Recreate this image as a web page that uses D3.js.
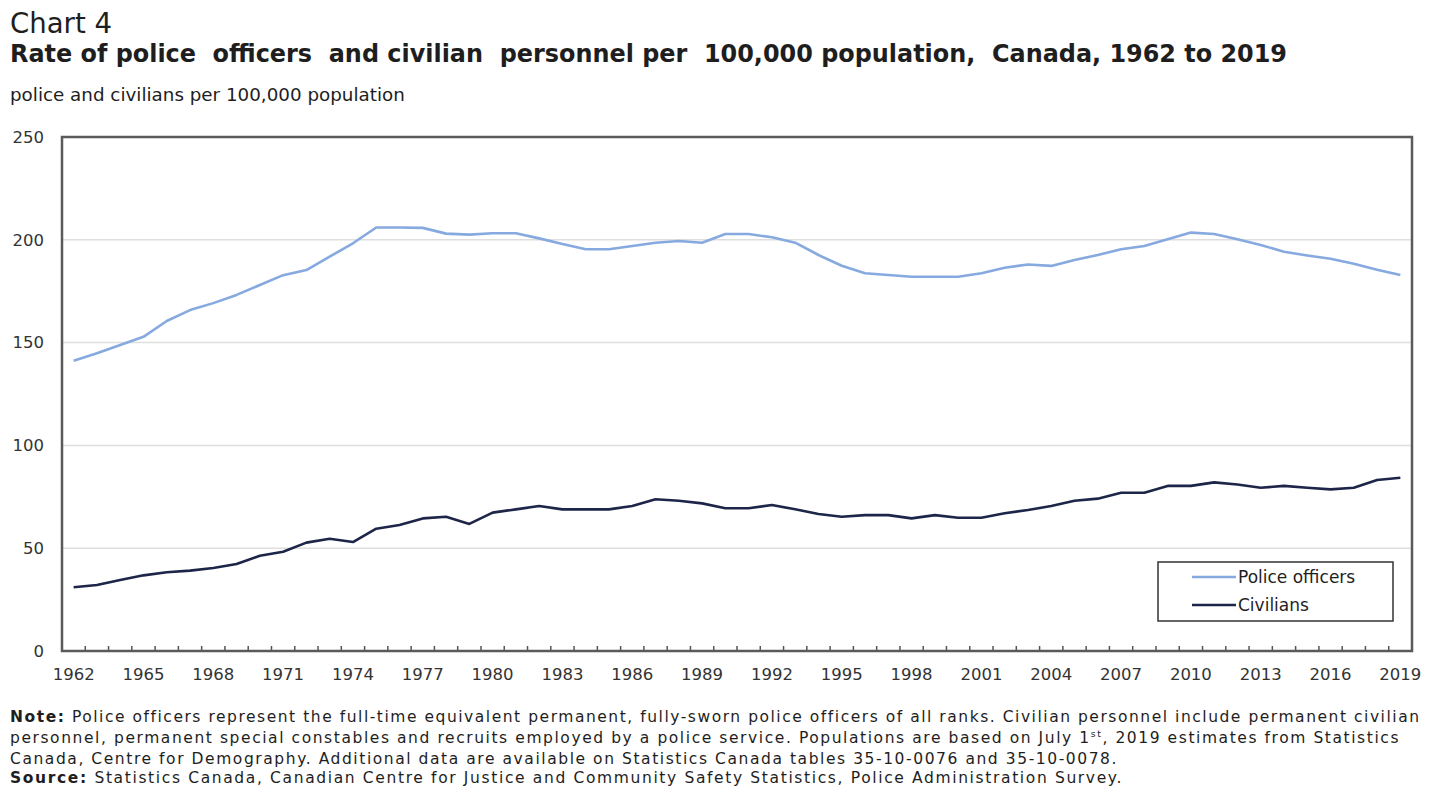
<!DOCTYPE html>
<html>
<head>
<meta charset="utf-8">
<script src="https://cdn.jsdelivr.net/npm/d3@7"></script>
<style>
  html, body { margin: 0; padding: 0; background: #fff; }
  svg { display: block; font-family: "DejaVu Sans", Verdana, sans-serif; }
</style>
</head>
<body>
<svg id="chart" width="1440" height="797"></svg>
<script>
const years = d3.range(1962, 2020);
const policeOfficers = [
  141.2, 144.8, 148.8, 152.8, 160.5, 165.8, 169.2, 173.2, 178.0, 182.8,
  185.3, 191.8, 198.3, 206.0, 206.0, 205.8, 203.0, 202.5, 203.2, 203.2,
  200.7, 198.0, 195.4, 195.4, 197.0, 198.6, 199.4, 198.6, 202.8, 202.8,
  201.2, 198.6, 192.6, 187.4, 183.7, 182.9, 182.0, 182.0, 182.0, 183.7,
  186.4, 188.0, 187.3, 190.2, 192.6, 195.4, 197.0, 200.3, 203.5, 202.8,
  200.3, 197.5, 194.2, 192.4, 190.8, 188.4, 185.4, 182.9
];
const civilians = [
  31.0, 32.1, 34.5, 36.8, 38.3, 39.1, 40.4, 42.3, 46.3, 48.3,
  52.7, 54.6, 53.0, 59.5, 61.3, 64.5, 65.3, 61.8, 67.3, 68.9,
  70.5, 68.9, 68.9, 68.9, 70.5, 73.8, 73.1, 71.8, 69.4, 69.4,
  71.0, 68.9, 66.6, 65.3, 66.1, 66.1, 64.5, 66.1, 64.8, 64.8,
  67.0, 68.6, 70.5, 73.1, 74.1, 77.0, 77.0, 80.3, 80.3, 82.0,
  81.0, 79.4, 80.3, 79.4, 78.6, 79.4, 83.2, 84.3
];
const yTicks = [0, 50, 100, 150, 200, 250];
const xLabelYears = years.filter(v => (v - 1962) % 3 === 0);
const seriesNames = ["Police officers", "Civilians"];
const seriesColors = ["#86a9df", "#1d2548"];

const chartLabel = "Chart 4";
const title = "Rate of police  officers  and civilian  personnel per  100,000 population,  Canada, 1962 to 2019";
const subtitle = "police and civilians per 100,000 population";

(function () {
const svg = d3.select("#chart");
const textColor = "#1e1e1e";

function fit(sel, target) {
  const w = sel.node().getComputedTextLength();
  const fs = parseFloat(sel.attr("font-size"));
  sel.attr("font-size", (fs * target / w).toFixed(2));
}
function spread(sel, target) {
  const w = sel.node().getComputedTextLength();
  const n = sel.text().length;
  sel.attr("letter-spacing", ((target - w) / n).toFixed(3));
}

// Titles
fit(svg.append("text").attr("x", 10).attr("y", 33).attr("font-size", 22)
  .attr("fill", textColor).text(chartLabel), 102);
fit(svg.append("text").attr("x", 10).attr("y", 62).attr("font-size", 20)
  .attr("font-weight", "bold").attr("fill", textColor)
  .style("white-space", "pre").text(title), 1277);
fit(svg.append("text").attr("x", 10).attr("y", 101).attr("font-size", 14)
  .attr("fill", textColor).text(subtitle), 395);

// Scales
const pLeft = 62, pRight = 1412, pTop = 137, pBottom = 651;
const x = d3.scaleBand().domain(years).range([pLeft, pRight]);
const y = d3.scaleLinear().domain([0, 250]).range([pBottom, pTop]);
const cx = d => x(d) + x.bandwidth() / 2;

// Grid
svg.append("g").selectAll("line").data(yTicks.filter(t => t > 0 && t < 250)).join("line")
  .attr("x1", pLeft).attr("x2", pRight)
  .attr("y1", d => y(d)).attr("y2", d => y(d))
  .attr("stroke", "#dedede").attr("stroke-width", 1.5);

// Y axis labels
const yAxis = d3.axisLeft(y).tickValues(yTicks).tickSize(0).tickPadding(18);
const yg = svg.append("g").attr("transform", `translate(${pLeft},0)`).call(yAxis);
yg.select(".domain").remove();
yg.selectAll("text").attr("font-size", 16.5).attr("fill", "#333")
  .attr("font-family", "DejaVu Sans, sans-serif");

// X axis labels
const xAxis = d3.axisBottom(x).tickValues(xLabelYears).tickSize(0).tickPadding(17);
const xg = svg.append("g").attr("transform", `translate(0,${pBottom})`).call(xAxis);
xg.select(".domain").remove();
xg.selectAll("text").attr("font-size", 16.5).attr("fill", "#333")
  .attr("font-family", "DejaVu Sans, sans-serif");

// Tick marks at band boundaries (inward)
svg.append("g").selectAll("line").data(years.slice(1)).join("line")
  .attr("x1", d => x(d)).attr("x2", d => x(d))
  .attr("y1", pBottom).attr("y2", pBottom - 5)
  .attr("stroke", "#555").attr("stroke-width", 1.5);

// Frame
svg.append("rect").attr("x", pLeft).attr("y", pTop)
  .attr("width", pRight - pLeft).attr("height", pBottom - pTop)
  .attr("fill", "none").attr("stroke", "#5a5a5a").attr("stroke-width", 2.5);

// Lines
const line = d3.line().x((d, i) => cx(years[i])).y(d => y(d));
[policeOfficers, civilians].forEach((s, i) => {
  svg.append("path").datum(s).attr("d", line)
    .attr("fill", "none").attr("stroke", seriesColors[i])
    .attr("stroke-width", 2.6).attr("stroke-linejoin", "round");
});

// Legend
const lg = svg.append("g");
lg.append("rect").attr("x", 1158).attr("y", 562).attr("width", 235).attr("height", 59)
  .attr("fill", "#fff").attr("stroke", "#333").attr("stroke-width", 1.5);
seriesNames.forEach((n, i) => {
  const yy = 577 + i * 28;
  lg.append("line").attr("x1", 1192).attr("x2", 1236).attr("y1", yy).attr("y2", yy)
    .attr("stroke", seriesColors[i]).attr("stroke-width", 2.6);
  lg.append("text").attr("x", 1238).attr("y", yy + 6).attr("font-size", 17)
    .attr("fill", textColor).text(n);
});

// Notes
const notes = [
  {parts: [["Note:", true], [" Police officers represent the full-time equivalent permanent, fully-sworn police officers of all ranks. Civilian personnel include permanent civilian", false]], w: 1410, y: 722},
  {parts: [["personnel, permanent special constables and recruits employed by a police service. Populations are based on July 1", false], ["st", "sup"], [", 2019 estimates from Statistics", false]], w: 1390, y: 743},
  {parts: [["Canada, Centre for Demography. Additional data are available on Statistics Canada tables 35-10-0076 and 35-10-0078.", false]], w: 1108, y: 764},
  {parts: [["Source:", true], [" Statistics Canada, Canadian Centre for Justice and Community Safety Statistics, Police Administration Survey.", false]], w: 1113, y: 783}
];
notes.forEach(n => {
  const t = svg.append("text").attr("x", 10).attr("y", n.y).attr("font-size", 15.5)
    .attr("fill", textColor).style("white-space", "pre");
  let pendingDy = 0;
  n.parts.forEach(([s, b]) => {
    if (b === "sup") {
      t.append("tspan").attr("font-size", "0.6em").attr("dy", -6).text(s);
      pendingDy = 6;
    } else {
      const ts = t.append("tspan").attr("font-weight", b ? "bold" : null).text(s);
      if (pendingDy) { ts.attr("dy", pendingDy); pendingDy = 0; }
    }
  });
  spread(t, n.w);
});
})();
</script>
</body>
</html>
